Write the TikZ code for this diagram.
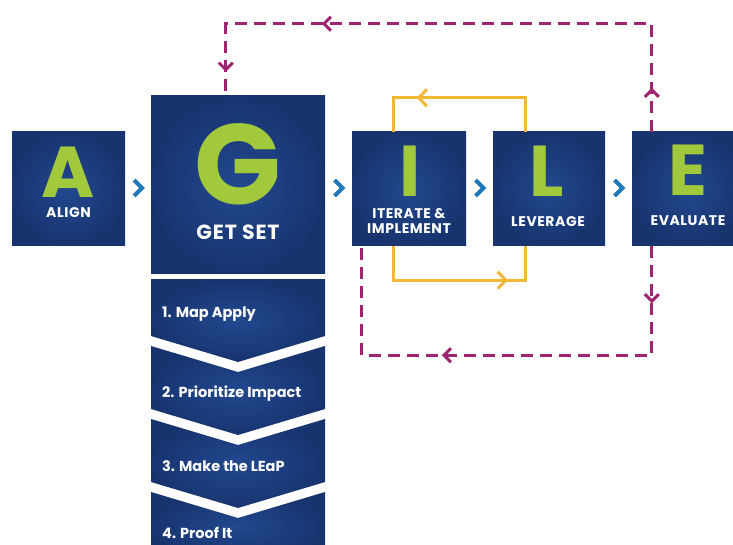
\documentclass[tikz,border=0pt]{standalone}
\usepackage{fontspec}
\setmainfont{Poppins}
\newfontfamily\lblfont{Poppins}[LetterSpace=4]
\usetikzlibrary{arrows.meta,decorations.markings,calc}
\definecolor{navyin}{HTML}{22488F}
\definecolor{navyout}{HTML}{17346F}
\definecolor{lime}{HTML}{A2C83B}
\definecolor{gold}{HTML}{F2B733}
\definecolor{plum}{HTML}{9E2470}
\definecolor{chevblue}{HTML}{1E78BA}
\tikzset{
  box/.style={rectangle, inner sep=0pt, shading=radial, inner color=navyin, outer color=navyout},
  stepshape/.style={shading=radial, inner color=navyin, outer color=navyout},
  bigletter/.style={text=lime, inner sep=0pt, anchor=base, text depth=0pt, font=\fontsize{72}{72}\selectfont\bfseries},
  lbl/.style={text=white, inner sep=0pt, anchor=base, text depth=0pt, font=\lblfont\fontsize{14}{14}\selectfont\bfseries},
  steplbl/.style={text=white, inner sep=0pt, anchor=base west, font=\fontsize{14.5}{15}\selectfont\bfseries},
  chev/.style={draw=chevblue, line width=4pt, miter limit=10},
  magline/.style={draw=plum, line width=3pt, dash pattern=on 12pt off 7pt},
  goldline/.style={draw=gold, line width=3pt},
}
\begin{document}
\begin{tikzpicture}[x=1pt,y=-1pt]
\clip (0,0) rectangle (733,545);
\fill[white] (0,0) rectangle (733,545);

% main boxes
\node[box, minimum width=113pt, minimum height=114pt] (A) at (68.5,189) {};
\node[box, minimum width=174pt, minimum height=177pt] (G) at (238,184.5) {};
\node[box, minimum width=114pt, minimum height=114pt] (I) at (409,189) {};
\node[box, minimum width=112pt, minimum height=114pt] (L) at (549,189) {};
\node[box, minimum width=113pt, minimum height=114pt] (E) at (688.5,189) {};

% steps
\path[stepshape] (151,279) -- (325,279) -- (325,336) -- (238,362) -- (151,336) -- cycle;
\path[stepshape] (151,346) -- (238,372) -- (325,346) -- (325,409) -- (238,435) -- (151,409) -- cycle;
\path[stepshape] (151,419) -- (238,445) -- (325,419) -- (325,482) -- (238,508) -- (151,482) -- cycle;
\path[stepshape] (151,492) -- (238,518) -- (325,492) -- (325,560) -- (151,560) -- cycle;

% letters
\node[bigletter] (Al) at (68.5,198) {A};
\node[bigletter, font=\fontsize{114}{114}\selectfont\bfseries] (Gl) at (238,205) {G};
\node[bigletter] (Il) at (410,197) {I};
\node[bigletter] (Ll) at (547,197) {L};
\node[bigletter] (El) at (688,196) {E};

% labels
\node[lbl] (At) at (68.5,218) {ALIGN};
\node[lbl, font=\lblfont\fontsize{20.5}{21}\selectfont\bfseries] (Gt) at (238,240) {GET SET};
\node[lbl] (It1) at (409,219) {ITERATE \&};
\node[lbl] (It2) at (409,234) {IMPLEMENT};
\node[lbl] (Lt) at (548,227) {LEVERAGE};
\node[lbl] (Et) at (688,226) {EVALUATE};

\node[steplbl] (s1) at (162,317) {1. Map Apply};
\node[steplbl] (s2) at (162,397) {2. Prioritize Impact};
\node[steplbl] (s3) at (162,471) {3. Make the LEaP};
\node[steplbl] (s4) at (162,538) {4. Proof It};

% small chevrons
\coordinate (c1) at ($(A.east)!0.5!(G.west)$);
\coordinate (c2) at ($(G.east)!0.5!(I.west)$);
\coordinate (c3) at ($(I.east)!0.5!(L.west)$);
\coordinate (c4) at ($(L.east)!0.5!(E.west)$);
\foreach \c in {c1,c2,c3,c4}{
  \draw[chev] ([xshift=-4pt,yshift=-8pt]\c |- 0,188) -- ([xshift=4pt]\c |- 0,188) -- ([xshift=-4pt,yshift=8pt]\c |- 0,188);
}

% gold loop
\draw[goldline, postaction={decorate}, decoration={markings, mark=at position 143pt with {\arrow{Straight Barb[length=8pt,width=17pt]}}}]
  ($(L.north west)+(33,0)$) -- ++(0,-34) -| ($(I.north west)+(42,0)$);
\draw[goldline, postaction={decorate}, decoration={markings, mark=at position 148pt with {\arrow{Straight Barb[length=8pt,width=17pt]}}}]
  ($(I.south west)+(42,0)$) -- ++(0,34) -| ($(L.south west)+(33,0)$);

% magenta loops
\draw[magline, postaction={decorate}, decoration={markings,
    mark=at position 44pt with {\arrow{Straight Barb[length=7pt,width=14pt]}},
    mark=at position 438pt with {\arrow{Straight Barb[length=7pt,width=14pt]}},
    mark=at position 582pt with {\arrow{Straight Barb[length=7pt,width=14pt]}}}]
  ($(E.north west)+(20,0)$) -- ++(0,-108) -| ($(G.north west)+(75,0)$);
\draw[magline, postaction={decorate}, decoration={markings,
    mark=at position 57pt with {\arrow{Straight Barb[length=7pt,width=14pt]}},
    mark=at position 319pt with {\arrow{Straight Barb[length=7pt,width=14pt]}}}]
  ($(E.south west)+(20,0)$) -- ++(0,109) -| ($(I.south west)+(10,0)$);
\end{tikzpicture}
\end{document}
